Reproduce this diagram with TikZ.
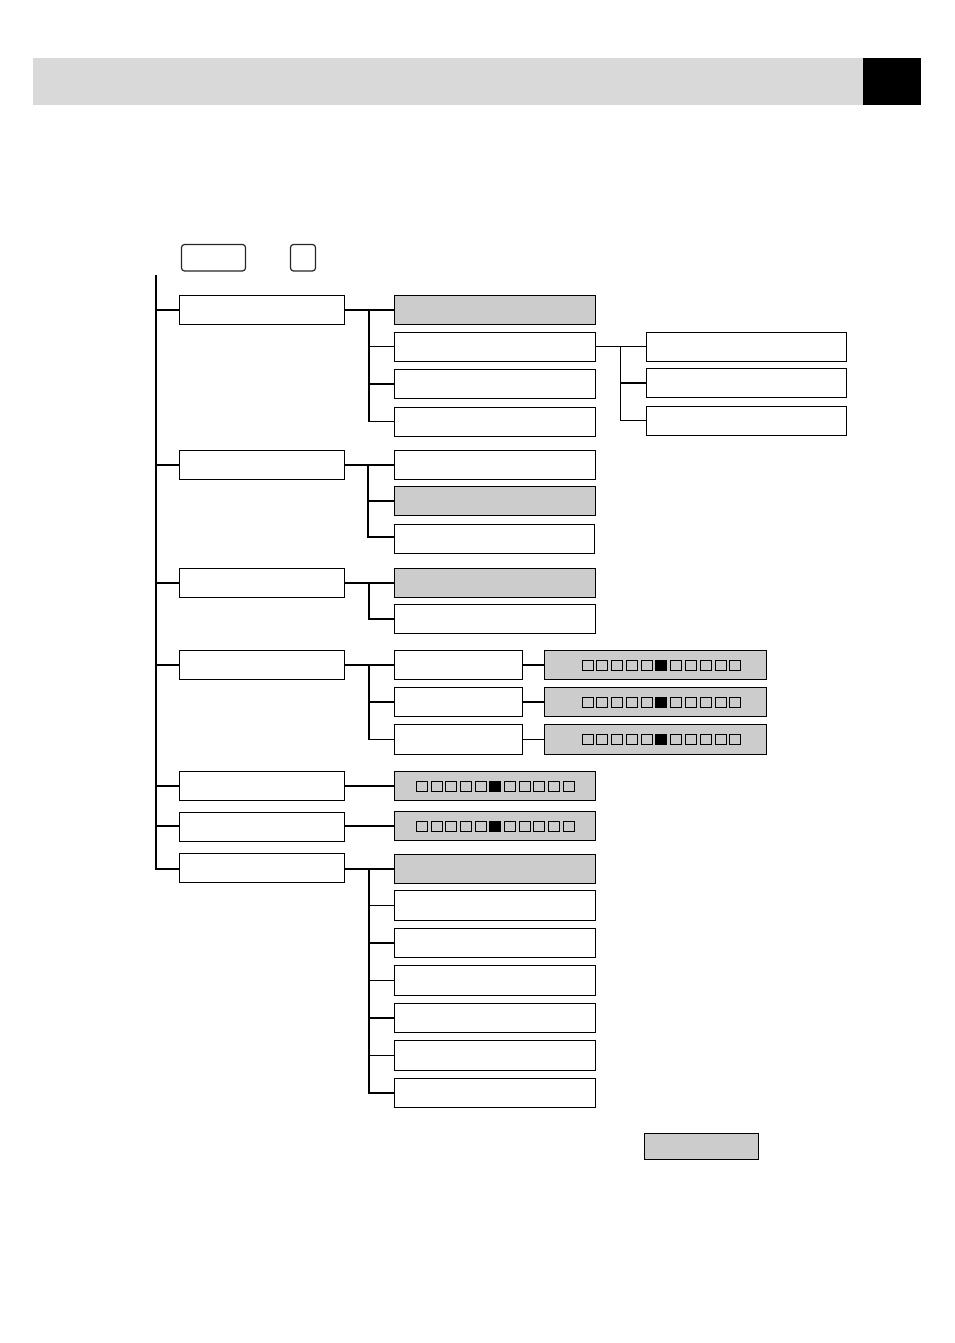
\documentclass[tikz,border=0pt]{standalone}
\definecolor{shade}{HTML}{CCCCCC}
\definecolor{band}{HTML}{D9D9D9}
\tikzset{
  plain/.style={draw=black,line width=1pt,fill=white,inner sep=0pt,outer sep=0pt,anchor=north west},
  shaded/.style={plain,fill=shade},
  keycap/.style={plain,line width=1.2pt,draw=black!85,rounded corners=3pt},
  thin link/.style={line width=1pt},
  thick link/.style={line width=2pt},
  trunk/.style={line width=2pt,line cap=rect},
  fine trunk/.style={line width=1pt,line cap=rect},
  tick/.style={draw=black,line width=1.1pt},
  spot/.style={fill=black}
}
\newcommand{\bx}[6]{\node[#2,minimum width=#5pt-#3pt,minimum height=#6pt-#4pt] (#1) at (#3,#4) {};}
\newcommand{\scale}[3]{% left x, top y, pitch
  \foreach \i in {0,...,10}{
    \pgfmathsetmacro{\xa}{round(#1+\i*#3)}
    \ifnum\i=5
      \fill[spot] (\xa,#2) rectangle ++(12,11);
    \else
      \draw[tick] (\xa+.5,#2+.5) rectangle ++(11,10);
    \fi
  }}
\begin{document}
\begin{tikzpicture}[x=1pt,y=-1pt]
\useasboundingbox (0,0) rectangle (954,1343);
\fill[band] (33,58) rectangle (863,105);
\fill[black] (863,58) rectangle (921,105);
\bx{keya}{keycap}{181.5}{244.5}{245.5}{271}
\bx{keyb}{keycap}{290.5}{244.5}{315.5}{271}
% first level
\bx{la}{plain}{179.5}{295.5}{344.5}{324.5}
\bx{lb}{plain}{179.5}{450.5}{344.5}{479.5}
\bx{lc}{plain}{179.5}{568.5}{344.5}{597.5}
\bx{ld}{plain}{179.5}{650.5}{344.5}{679.5}
\bx{le}{plain}{179.5}{771.5}{344.5}{800.5}
\bx{lf}{plain}{179.5}{812.5}{344.5}{841.5}
\bx{lg}{plain}{179.5}{853.5}{344.5}{882.5}
% group a
\bx{aa}{shaded}{394.5}{295.5}{595.5}{324.5}
\bx{ab}{plain}{394.5}{332.5}{595.5}{361.5}
\bx{ac}{plain}{394.5}{369.5}{595.5}{398.5}
\bx{ad}{plain}{394.5}{407.5}{595.5}{436.5}
\bx{ta}{plain}{646.5}{332.5}{846.5}{361.5}
\bx{tb}{plain}{646.5}{368.5}{846.5}{397.5}
\bx{tc}{plain}{646.5}{406.5}{846.5}{435.5}
% group b
\bx{ba}{plain}{394.5}{450.5}{595.5}{479.5}
\bx{bb}{shaded}{394.5}{486.5}{595.5}{515.5}
\bx{bc}{plain}{394.5}{524.5}{594.5}{553.5}
% group c
\bx{ca}{shaded}{394.5}{568.5}{595.5}{597.5}
\bx{cb}{plain}{394.5}{604.5}{595.5}{633.5}
% group d
\bx{da}{plain}{394.5}{650.5}{522.5}{679.5}
\bx{db}{plain}{394.5}{687.5}{522.5}{716.5}
\bx{dc}{plain}{394.5}{724.5}{522.5}{754.5}
\bx{sa}{shaded}{544.5}{650.5}{766.5}{679.5}
\bx{sb}{shaded}{544.5}{687.5}{766.5}{716.5}
\bx{sc}{shaded}{544.5}{724.5}{766.5}{754.5}
% single bars
\bx{ea}{shaded}{394.5}{771.5}{595.5}{800.5}
\bx{fa}{shaded}{394.5}{811.5}{595.5}{840.5}
% group g
\bx{ga}{shaded}{394.5}{854.5}{595.5}{883.5}
\bx{gb}{plain}{394.5}{890.5}{595.5}{920.5}
\bx{gc}{plain}{394.5}{928.5}{595.5}{957.5}
\bx{gd}{plain}{394.5}{965.5}{595.5}{995.5}
\bx{ge}{plain}{394.5}{1003.5}{595.5}{1032.5}
\bx{gf}{plain}{394.5}{1040.5}{595.5}{1070.5}
\bx{gg}{plain}{394.5}{1078.5}{595.5}{1107.5}
% legend
\bx{key}{shaded}{644.5}{1133.5}{758.5}{1159.5}
% spine
\coordinate (sptop) at (156,276);
\draw[trunk] (sptop) -- (sptop |- ga.west);
\draw[thick link] (sptop |- la.west) -- (la.west);
\draw[thick link] (sptop |- lb.west) -- (lb.west);
\draw[thick link] (sptop |- lc.west) -- (lc.west);
\draw[thick link] (sptop |- ld.west) -- (ld.west);
\draw[thick link] (sptop |- le.west) -- (le.west);
\draw[thick link] (sptop |- fa.west) -- (lf.west |- fa.west);
\draw[thick link] (sptop |- ga.west) -- (lg.west |- ga.west);
% trunks
\coordinate (tra) at (369,310);
\coordinate (trb) at (368,465);
\coordinate (trc) at (369,583);
\coordinate (trd) at (369,665);
\coordinate (trg) at (369,869);
\coordinate (trt) at (620.5,346.5);
% group a links
\draw[thick link] (la.east) -- (aa.west);
\coordinate (abm) at ([yshift=.5pt]ab.west);
\coordinate (adm) at ([yshift=.5pt]ad.west);
\draw[trunk] (tra) -- ([yshift=.5pt]tra |- adm);
\draw[thin link] (tra |- abm) -- (abm);
\draw[thick link] (tra |- ac.west) -- (ac.west);
\draw[thin link] ([xshift=-1pt]tra |- adm) -- (adm);
% third level links
\coordinate (tam) at ([yshift=.5pt]ta.west);
\coordinate (tcm) at ([yshift=.5pt]tc.west);
\draw[thin link] (ab.east |- tam) -- (tam);
\draw[fine trunk] (trt) -- (trt |- tcm);
\draw[thick link] (trt |- tb.west) -- (tb.west);
\draw[thin link] (trt |- tcm) -- (tcm);
% group b links
\coordinate (bcm) at ([yshift=2pt]bc.west);
\draw[thick link] (lb.east) -- (ba.west);
\draw[trunk] (trb) -- (trb |- bcm);
\draw[thick link] (trb |- bb.west) -- (bb.west);
\draw[thick link] (trb |- bcm) -- (bcm);
% group c links
\draw[thick link] (lc.east) -- (ca.west);
\draw[trunk] (trc) -- (trc |- cb.west);
\draw[thick link] (trc |- cb.west) -- (cb.west);
% group d links
\draw[thick link] (ld.east) -- (da.west);
\draw[trunk] (trd) -- ([yshift=.5pt]trd |- dc.west);
\draw[thick link] (trd |- db.west) -- (db.west);
\draw[thin link] ([xshift=-1pt]trd |- dc.west) -- (dc.west);
\draw[thick link] (da.east) -- (sa.west);
\draw[thick link] (db.east) -- (sb.west);
\draw[thin link] (dc.east) -- (sc.west);
% single bars
\draw[thick link] (le.east) -- (ea.west);
\draw[thick link] (lf.east |- fa.west) -- (fa.west);
% group g links
\draw[thick link] (lg.east |- ga.west) -- (ga.west);
\draw[trunk] (trg) -- (trg |- gg.west);
\draw[thin link] (trg |- gb.west) -- (gb.west);
\draw[thick link] (trg |- gc.west) -- (gc.west);
\draw[thin link] (trg |- gd.west) -- (gd.west);
\draw[thick link] (trg |- ge.west) -- (ge.west);
\draw[thin link] (trg |- gf.west) -- (gf.west);
\draw[thick link] (trg |- gg.west) -- (gg.west);
% level scales
\scale{581.7}{660}{14.76}
\scale{581.7}{697}{14.76}
\scale{581.7}{734}{14.76}
\scale{416}{781}{14.66}
\scale{416}{821}{14.66}
\end{tikzpicture}
\end{document}
